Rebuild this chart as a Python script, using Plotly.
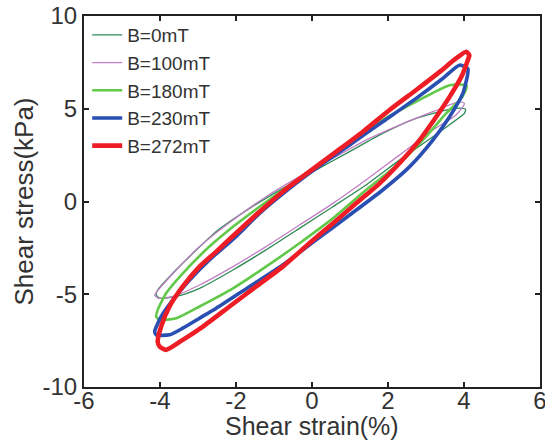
import plotly.graph_objects as go

# ---- data ----
names = ["B=0mT", "B=100mT", "B=180mT", "B=230mT", "B=272mT"]

x_0mT = [-4.10, -4.06, -3.75, -3.22, -2.52, -1.64, -0.77, 0.11, 0.99, 1.86, 2.74, 3.62, 3.97, 4.04,
         4.01, 3.79, 3.18, 2.30, 1.42, 0.55, -0.33, -1.21, -2.08, -2.96, -3.57, -4.01, -4.10]
y_0mT = [-5.03, -4.77, -4.05, -2.97, -1.62, -0.37, 0.71, 1.70, 2.69, 3.67, 4.48, 4.97, 5.02, 4.97,
         4.75, 4.39, 3.49, 2.23, 0.89, -0.28, -1.45, -2.61, -3.69, -4.68, -5.12, -5.21, -5.03]

x_100mT = [-4.14, -4.01, -3.57, -2.96, -2.08, -1.21, -0.33, 0.55, 1.42, 2.30, 3.18, 3.88, 4.01,
           3.79, 3.18, 2.30, 1.42, 0.55, -0.33, -1.21, -2.08, -2.96, -3.66, -4.06, -4.14]
y_100mT = [-5.03, -4.68, -3.69, -2.43, -1.0, 0.26, 1.34, 2.33, 3.31, 4.12, 4.84, 5.38, 5.29,
           4.66, 3.85, 2.50, 1.16, -0.10, -1.27, -2.43, -3.51, -4.50, -5.12, -5.21, -5.03]

x_180mT = [-4.10, -4.06, -3.84, -3.40, -2.70, -2.08, -1.38, -0.77, 0.11, 0.99, 1.86, 2.74, 3.62, 4.06,
           4.06, 3.93, 3.53, 3.0, 2.30, 1.42, 0.55, -0.33, -1.21, -2.08, -2.96, -3.57, -4.01, -4.10]
y_180mT = [-6.2, -5.84, -4.95, -3.87, -2.43, -1.36, -0.28, 0.62, 1.88, 3.14, 4.39, 5.38, 6.27, 6.27,
           6.1, 5.56, 4.75, 3.5, 2.06, 0.62, -0.91, -2.25, -3.51, -4.68, -5.66, -6.29, -6.38, -6.2]

x_230mT = [-4.14, -3.97, -3.66, -3.22, -2.70, -2.0, -1.38, -0.59, 0.11, 0.99, 1.86, 2.74, 3.44, 3.88, 4.10,
           4.10, 3.97, 3.62, 3.18, 2.57, 1.86, 0.99, 0.11, -0.77, -1.64, -2.52, -2.96, -3.40, -3.75, -4.10, -4.14]
y_230mT = [-7.01, -6.20, -5.30, -4.23, -3.15, -1.89, -0.64, 0.71, 1.79, 3.05, 4.30, 5.56, 6.63, 7.35, 7.17,
           6.90, 5.83, 4.57, 3.31, 1.88, 0.62, -0.73, -2.07, -3.42, -4.58, -5.75, -6.29, -6.83, -7.19, -7.19, -7.01]

x_272mT = [-4.06, -3.97, -3.75, -3.40, -2.96, -2.52, -2.0, -1.38, -0.77, -0.07, 0.64, 1.34, 2.04, 2.74, 3.36, 3.79, 4.06, 4.14,
           4.10, 3.93, 3.62, 3.27, 2.83, 2.30, 1.78, 1.16, 0.55, -0.07, -0.77, -1.47, -2.17, -2.87, -3.40, -3.84, -4.01, -4.06]
y_272mT = [-7.55, -6.74, -5.66, -4.58, -3.51, -2.70, -1.71, -0.55, 0.53, 1.61, 2.69, 3.76, 4.93, 6.01, 6.99, 7.71, 8.07, 7.89,
           7.62, 6.72, 5.64, 4.57, 3.31, 2.06, 0.98, -0.10, -1.18, -2.25, -3.51, -4.58, -5.66, -6.74, -7.46, -8.0, -7.82, -7.55]

xs = [x_0mT, x_100mT, x_180mT, x_230mT, x_272mT]
ys = [y_0mT, y_100mT, y_180mT, y_230mT, y_272mT]

x_ticks = [-6, -4, -2, 0, 2, 4, 6]
y_ticks = [-10, -5, 0, 5, 10]

x_title = "Shear strain(%)"
y_title = "Shear stress(kPa)"

# ---- style ----
colors = ["#2e8a55", "#c27fc6", "#62c848", "#2a4fb2", "#ee1d25"]
widths = [1.3, 1.3, 2.6, 3.6, 4.6]
FONT = "Liberation Sans, Arial, sans-serif"

fig = go.Figure()
for n, x, y, c, w in zip(names, xs, ys, colors, widths):
    fig.add_trace(go.Scatter(x=x, y=y, mode="lines", name=n,
                             line=dict(color=c, width=w, shape="spline", smoothing=0.6)))

axis_common = dict(showline=True, linecolor="#222", linewidth=2, mirror="ticks",
                   ticks="inside", ticklen=5, tickwidth=1.5, tickcolor="#222",
                   showgrid=False, zeroline=False, automargin=False,
                   ticklabeloverflow="allow",
                   tickfont=dict(family=FONT, size=24, color="#333"))

fig.update_xaxes(range=[-6, 6], tickvals=x_ticks, ticktext=[str(v) for v in x_ticks],
                 ticklabelstandoff=-9, **axis_common)
fig.update_yaxes(range=[-10, 10], tickvals=y_ticks, ticktext=[str(v) for v in y_ticks],
                 title=dict(text=y_title, font=dict(family=FONT, size=26, color="#333"), standoff=1),
                 **axis_common)

# x-axis title placed just under the tick labels, as in the reference
fig.add_annotation(text=x_title, xref="paper", yref="paper", x=0.5, y=-0.105,
                   xanchor="center", yanchor="middle", showarrow=False,
                   font=dict(family=FONT, size=25, color="#333"))

fig.update_layout(width=545, height=445,
                  margin=dict(l=84, r=4.5, t=16, b=58),
                  paper_bgcolor="white", plot_bgcolor="white",
                  showlegend=True,
                  legend=dict(x=0.007, y=1.0, xanchor="left", yanchor="top",
                              bgcolor="rgba(0,0,0,0)", borderwidth=0,
                              font=dict(family=FONT, size=19, color="#333"),
                              itemwidth=30, tracegroupgap=0))

# remove the default 8 px page margin so the figure fills the 545x445 window exactly
fig.write_html("out.html", config={"displayModeBar": False},
               post_script="document.body.style.margin='0';document.body.style.overflow='hidden';")
